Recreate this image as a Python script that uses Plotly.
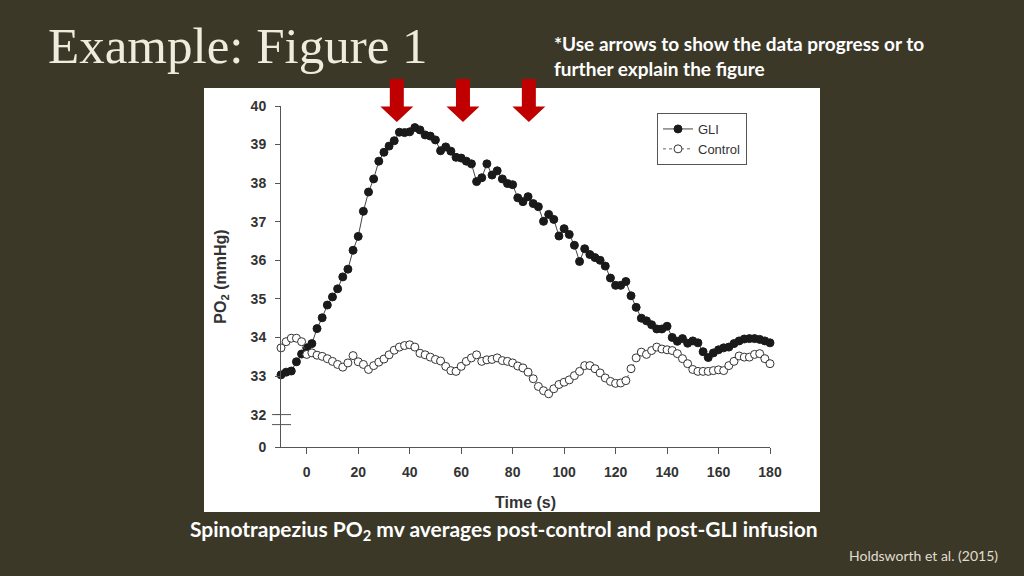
import plotly.graph_objects as go

# ---------------- data ----------------
TIME = list(range(-10, 181, 2))
GLI = [33.03, 33.10, 33.13, 33.37, 33.57,
       33.73, 33.84, 34.23, 34.51, 34.84, 35.05, 35.26, 35.57, 35.77, 36.26,
       36.62, 37.27, 37.77, 38.11, 38.57, 38.80, 38.96, 39.10, 39.32, 39.31,
       39.33, 39.44, 39.38, 39.25, 39.22, 39.12, 38.84, 38.94, 38.83, 38.67,
       38.65, 38.57, 38.50, 38.04, 38.14, 38.50, 38.21, 38.32, 38.11, 37.99,
       37.96, 37.62, 37.52, 37.65, 37.47, 37.39, 37.01, 37.19, 37.06, 36.63,
       36.82, 36.67, 36.39, 35.97, 36.30, 36.15, 36.07, 36.00, 35.85, 35.54,
       35.35, 35.35, 35.45, 35.08, 34.78, 34.50, 34.43, 34.33, 34.22, 34.22,
       34.29, 34.00, 33.90, 33.97, 33.85, 33.91, 33.86, 33.63, 33.48, 33.60,
       33.68, 33.73, 33.75, 33.84, 33.91, 33.96, 33.97, 33.97, 33.95, 33.91,
       33.86]
CONTROL = [33.73, 33.89, 33.98, 33.98, 33.89,
           33.56, 33.60, 33.54, 33.51, 33.45, 33.38, 33.30, 33.23, 33.34, 33.53,
           33.37, 33.30, 33.17, 33.27, 33.36, 33.44, 33.55, 33.67, 33.75, 33.79,
           33.81, 33.75, 33.59, 33.55, 33.49, 33.43, 33.39, 33.25, 33.14, 33.12,
           33.25, 33.38, 33.47, 33.55, 33.38, 33.42, 33.43, 33.47, 33.40, 33.38,
           33.34, 33.26, 33.21, 33.10, 32.93, 32.73, 32.62, 32.54, 32.67, 32.78,
           32.84, 32.90, 33.01, 33.12, 33.27, 33.27, 33.19, 33.08, 32.95, 32.86,
           32.81, 32.82, 32.88, 33.19, 33.47, 33.62, 33.56, 33.66, 33.75, 33.70,
           33.68, 33.66, 33.58, 33.45, 33.32, 33.17, 33.12, 33.12, 33.12, 33.14,
           33.16, 33.14, 33.27, 33.38, 33.52, 33.49, 33.49, 33.56, 33.58, 33.45,
           33.32]
X_TICKS = [0, 20, 40, 60, 80, 100, 120, 140, 160, 180]
Y_BREAK_BOTTOM = 31.16          # axis position that carries the "0" label
Y_TICKS = [Y_BREAK_BOTTOM, 32, 33, 34, 35, 36, 37, 38, 39, 40]
Y_TICK_TEXT = ["0", "32", "33", "34", "35", "36", "37", "38", "39", "40"]
ARROW_TIMES = [35, 60.7, 86.3]
SERIES_NAMES = ["GLI", "Control"]

X_RANGE = [-10, 180]
Y_RANGE = [Y_BREAK_BOTTOM, 40]

# ---------------- layout geometry ----------------
FW, FH = 1024, 576
L, R, T, B = 281, 254, 106, 129
PW, PH = FW - L - R, FH - T - B
BG = "#3b3828"
AXC = "#555555"
TXT = "#333333"


def px_x(px):
    return (px - L) / PW


def px_y(py):
    return (FH - B - py) / PH


def t_to_paper(t):
    return (t - X_RANGE[0]) / (X_RANGE[1] - X_RANGE[0])


def v_to_paper(v):
    return (v - Y_RANGE[0]) / (Y_RANGE[1] - Y_RANGE[0])


fig = go.Figure()
fig.add_trace(go.Scatter(
    x=TIME, y=GLI, name=SERIES_NAMES[0], mode="lines+markers",
    line=dict(color="#444444", width=1),
    marker=dict(symbol="circle", size=8, color="#1a1a1a",
                line=dict(color="#1a1a1a", width=1)),
    cliponaxis=False))
fig.add_trace(go.Scatter(
    x=TIME, y=CONTROL, name=SERIES_NAMES[1], mode="lines+markers",
    line=dict(color="#666666", width=1, dash="dot"),
    marker=dict(symbol="circle", size=8, color="white",
                line=dict(color="#333333", width=1)),
    cliponaxis=False))

shapes = []
# white figure panel
shapes.append(dict(type="rect", xref="paper", yref="paper", layer="below",
                   x0=px_x(204), x1=px_x(820), y0=px_y(512), y1=px_y(88),
                   fillcolor="white", line=dict(width=0)))
# axis break marks
for v in [32, 32 - 10 / 38.57]:
    yp = v_to_paper(v)
    shapes.append(dict(type="line", xref="paper", yref="paper",
                       x0=-9 / PW, x1=10 / PW, y0=yp, y1=yp,
                       line=dict(color=AXC, width=1)))
# red arrows
for t in ARROW_TIMES:
    cx = t_to_paper(t)
    sw, hw = 7 / PW, 16.5 / PW
    ytop, ybase, ytip = px_y(79), px_y(106.5), px_y(122)
    path = (f"M {cx - sw} {ytop} L {cx + sw} {ytop} L {cx + sw} {ybase} "
            f"L {cx + hw} {ybase} L {cx} {ytip} L {cx - hw} {ybase} "
            f"L {cx - sw} {ybase} Z")
    shapes.append(dict(type="path", xref="paper", yref="paper", path=path,
                       fillcolor="#c00000", line=dict(width=0)))

annotations = [
    dict(text="Example: Figure 1", x=px_x(46), y=px_y(46), xref="paper",
         yref="paper", xanchor="left", yanchor="middle", showarrow=False,
         font=dict(family="Liberation Serif", size=51, color="#efebdd")),
    dict(text="*Use arrows to show the data progress or to<br>further explain the figure",
         x=px_x(552), y=px_y(56), xref="paper", yref="paper",
         xanchor="left", yanchor="middle", align="left", showarrow=False,
         font=dict(family="Lato", size=19, color="#ffffff", weight="bold")),
    dict(text="Spinotrapezius PO<sub>2</sub> mv averages post-control and post-GLI infusion",
         x=px_x(503.5), y=px_y(530), xref="paper", yref="paper",
         xanchor="center", yanchor="middle", showarrow=False,
         font=dict(family="Lato", size=21, color="#ffffff", weight="bold")),
    dict(text="Holdsworth et al. (2015)", x=px_x(1000), y=px_y(555),
         xref="paper", yref="paper", xanchor="right", yanchor="middle",
         showarrow=False,
         font=dict(family="Lato", size=14, color="#e0ddd0")),
]

fig.update_layout(
    width=FW, height=FH, autosize=False,
    margin=dict(l=L, r=R, t=T, b=B, pad=0),
    paper_bgcolor=BG, plot_bgcolor="rgba(0,0,0,0)",
    shapes=shapes, annotations=annotations,
    showlegend=True,
    legend=dict(x=px_x(657), y=px_y(113), xanchor="left", yanchor="top",
                bgcolor="white", bordercolor="#555555", borderwidth=1,
                font=dict(family="Liberation Sans", size=13, color=TXT),
                tracegroupgap=0),
    xaxis=dict(range=X_RANGE, tickvals=X_TICKS, showgrid=False, zeroline=False,
               showline=True, linecolor=AXC, linewidth=1,
               ticks="outside", ticklen=6, tickcolor=AXC, tickwidth=1,
               ticklabelstandoff=6,
               tickfont=dict(family="Liberation Sans", size=14, color=TXT,
                             weight="bold"),
               title=dict(text="Time (s)", standoff=18,
                          font=dict(family="Liberation Sans", size=16,
                                    color=TXT, weight="bold"))),
    yaxis=dict(range=Y_RANGE, tickvals=Y_TICKS, ticktext=Y_TICK_TEXT,
               showgrid=False, zeroline=False,
               showline=True, linecolor=AXC, linewidth=1,
               ticks="outside", ticklen=5, tickcolor=AXC, tickwidth=1,
               ticklabelstandoff=6,
               tickfont=dict(family="Liberation Sans", size=14, color=TXT,
                             weight="bold"),
               title=dict(text="PO<sub>2</sub> (mmHg)", standoff=20,
                          font=dict(family="Liberation Sans", size=16,
                                    color=TXT, weight="bold"))),
)

fig.write_html("out.html",
               config={"displayModeBar": False},
               post_script="document.body.style.margin='0';"
                           "document.body.style.background='" + BG + "';")
